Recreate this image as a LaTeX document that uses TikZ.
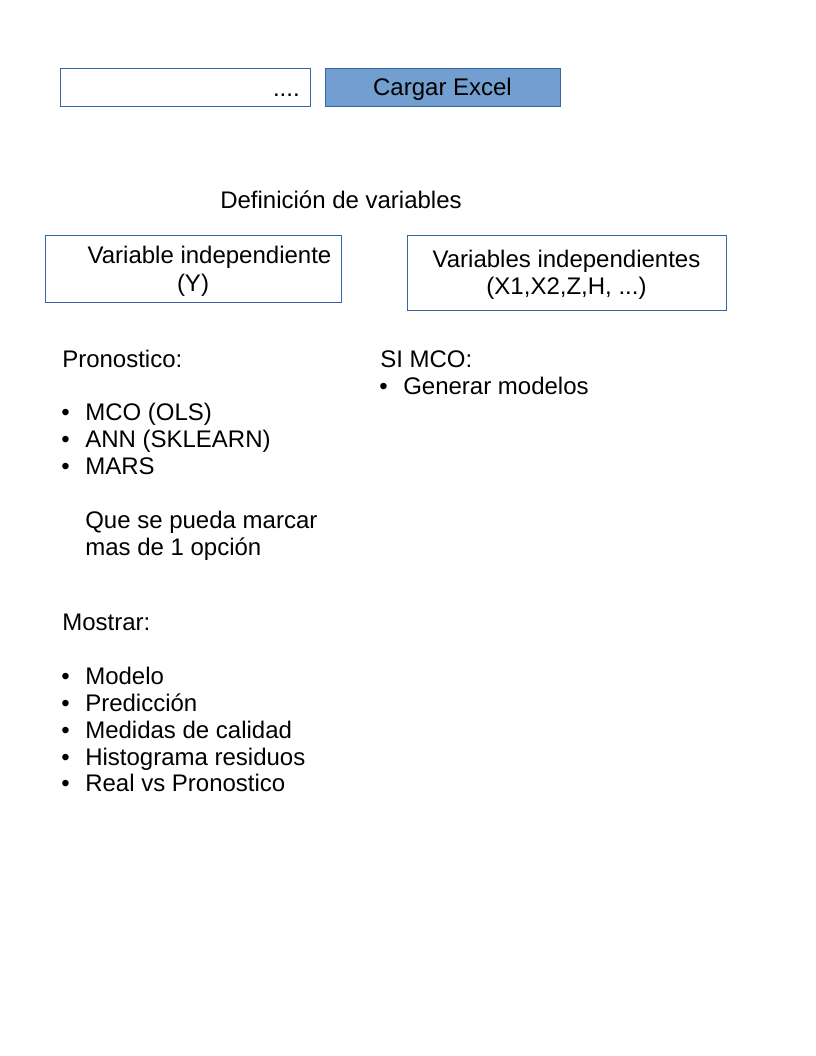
\documentclass[tikz,border=0pt]{standalone}
\usepackage{fontspec}
\setmainfont{Liberation Sans}
\definecolor{bord}{HTML}{3465A4}
\definecolor{fillb}{HTML}{729FCF}
\begin{document}
\begin{tikzpicture}[x=0.75pt,y=-0.75pt,
  txt/.style={font=\fontsize{18}{21.6}\selectfont, inner sep=0pt, anchor=base west, text=black},
  ctxt/.style={txt, anchor=base},
  boxst/.style={draw=bord, line width=0.6pt, inner sep=0pt, anchor=center}]
\useasboundingbox (0,0) rectangle (816,1056);
% top row
\node[boxst, minimum width=187.5pt, minimum height=28.5pt] (file) at (185,87) {};
\node[txt, anchor=base east] (dots) at (300,97) {....};
\node[boxst, fill=fillb, minimum width=176.25pt, minimum height=28.5pt] (load) at (442.5,87) {};
\node[ctxt] (loadt) at (442.5,95) {Cargar Excel};
% definition
\node[ctxt] (def) at (341,208) {Definición de variables};
\node[boxst, minimum width=222pt, minimum height=50.25pt] (ybox) at (193,268.5) {};
\node[ctxt] (y1) at (209.5,263) {Variable independiente};
\node[ctxt] (y2) at (193,291) {(Y)};
\node[boxst, minimum width=239.25pt, minimum height=56.25pt] (xbox) at (566.5,272.5) {};
\node[ctxt] (x1) at (566.5,267) {Variables independientes};
\node[ctxt] (x2) at (566.5,294) {(X1,X2,Z,H, ...)};
% left column
\node[txt] (pron) at (62,367) {Pronostico:};
\node[txt] (b1) at (61,420) {•};
\node[txt] (p1) at (85,420) {MCO (OLS)};
\node[txt] (b2) at (61,447) {•};
\node[txt] (p2) at (85,447) {ANN (SKLEARN)};
\node[txt] (b3) at (61,474) {•};
\node[txt] (p3) at (85,474) {MARS};
\node[txt] (q1) at (85,528) {Que se pueda marcar};
\node[txt] (q2) at (85,555) {mas de 1 opción};
\node[txt] (most) at (62,630) {Mostrar:};
\node[txt] (c1) at (61,684) {•};
\node[txt] (m1) at (85,684) {Modelo};
\node[txt] (c2) at (61,711) {•};
\node[txt] (m2) at (85,711) {Predicción};
\node[txt] (c3) at (61,738) {•};
\node[txt] (m3) at (85,738) {Medidas de calidad};
\node[txt] (c4) at (61,765) {•};
\node[txt] (m4) at (85,765) {Histograma residuos};
\node[txt] (c5) at (61,791) {•};
\node[txt] (m5) at (85,791) {Real vs Pronostico};
% right column
\node[txt] (si) at (380,367) {SI MCO:};
\node[txt] (d1) at (379,394) {•};
\node[txt] (g1) at (403,394) {Generar modelos};
\end{tikzpicture}
\end{document}
